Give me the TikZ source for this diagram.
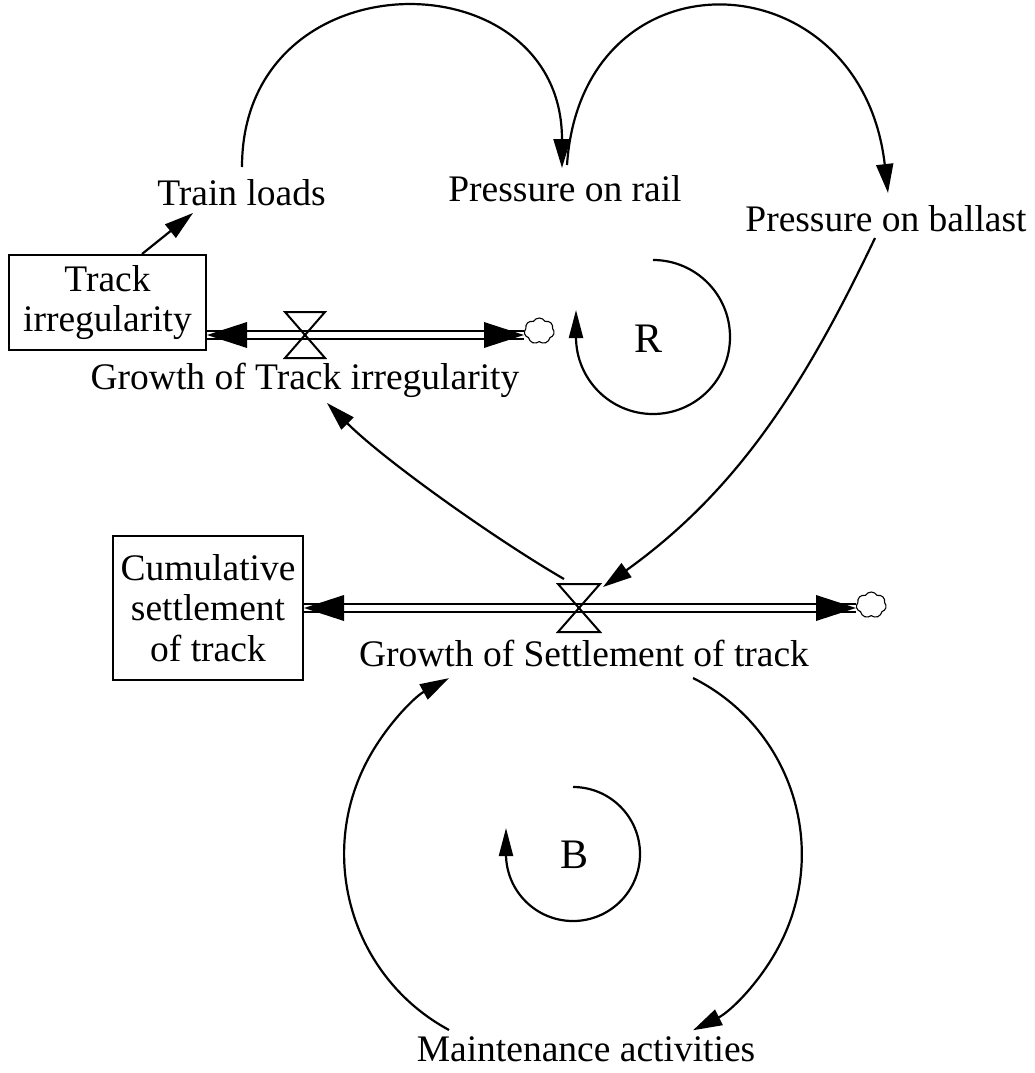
\documentclass[tikz,border=0pt]{standalone}
\usepackage{fontspec}
\setmainfont{Liberation Serif}
\usetikzlibrary{arrows.meta,calc,shapes.symbols}
\begin{document}
\begin{tikzpicture}[x=1pt,y=1pt,
  lbl/.style={inner sep=0pt, anchor=base, font=\fontsize{37.5}{40.5}\selectfont},
  looplbl/.style={inner sep=0pt, anchor=base, font=\fontsize{42}{44}\selectfont},
  stock/.style={draw, line width=2pt, align=center, inner sep=0pt, font=\fontsize{37.5}{40.5}\selectfont},
  conn/.style={line width=2.2pt, -{Triangle[length=29pt,width=17pt]}},
  loopline/.style={line width=2.2pt, -{Triangle[length=28pt,width=14pt]}},
  pipe/.style={line width=2.4pt, double, double distance=5.5pt},
  cloudy/.style={cloud, draw, line width=1.1pt, cloud puffs=7, cloud puff arc=120, minimum width=30pt, minimum height=26pt, inner sep=0pt, anchor=west},
  valveline/.style={line width=2pt, line join=miter}
]
\fill[white] (0,0) rectangle (1035,-1073);
\useasboundingbox (0,0) rectangle (1035,-1073);

% variables and stocks
\node[lbl] (tl) at (241.5,-205) {Train loads};
\node[lbl] (pr) at (565,-201) {Pressure on rail};
\node[lbl] (pb) at (886,-231) {Pressure on ballast};
\node[stock, minimum width=197pt, minimum height=95pt] (ti) at (107.5,-302.5) {Track\\irregularity};
\node[lbl] (gt) at (305,-389) {Growth of Track irregularity};
\node[stock, minimum width=190pt, minimum height=144pt] (cs) at (208,-608) {Cumulative\\settlement\\of track};
\node[lbl] (gs) at (584,-666) {Growth of Settlement of track};
\node[lbl] (ma) at (586,-1061) {Maintenance activities};
\node[looplbl] (Rlbl) at (648,-352) {R};
\node[looplbl] (Blbl) at (574,-868) {B};

% valves, clouds and loop centres
\coordinate (v1) at (305,-335);
\coordinate (v2) at (579,-608);
\coordinate (Rc) at (653,-337);
\coordinate (Bc) at (573,-854);
\node[cloudy] (c1) at (524,-331) {};
\node[cloudy] (c2) at (856,-605) {};

% flow pipes
\draw[pipe] (ti.east |- v1) -- (c1.west |- v1);
\fill (ti.east |- v1) -- ++(40,13) -- ++(0,-26) -- cycle;
\fill (c1.west |- v1) -- ++(-40,13) -- ++(0,-26) -- cycle;
\draw[valveline] (v1) -- ++(-20,23) -- ++(40,0) -- cycle
                 (v1) -- ++(-20,-23) -- ++(40,0) -- cycle;

\draw[pipe] (cs.east |- v2) -- (c2.west |- v2);
\fill (cs.east |- v2) -- ++(40,13) -- ++(0,-26) -- cycle;
\fill (c2.west |- v2) -- ++(-40,13) -- ++(0,-26) -- cycle;
\draw[valveline] (v2) -- ++(-21,24) -- ++(42,0) -- cycle
                 (v2) -- ++(-21,-24) -- ++(42,0) -- cycle;

% causal links
\draw[conn] ($(ti.north)+(34.5,0)$) -- ($(tl.base)+(-48.5,-8)$);
\draw[conn] ($(tl.base)+(0.5,38)$) .. controls +(0,213) and +(0,213) .. ($(pr.base)+(-3,33)$);
\draw[conn] ($(pr.base)+(2,36)$) .. controls +(15,220) and +(-27,236) .. ($(pb.base)+(2,38)$);
\draw[conn] ($(pb.base)+(-11,-7)$) .. controls +(-71,-149) and +(134,96) .. ($(v2)+(24,21)$);
\draw[conn] ($(v2)+(-15,29)$) .. controls +(-69,40) and +(57,-57) .. ($(gt.base)+(22,-14)$);
\draw[conn] ($(gs.base)+(109,-12)$) arc[start angle=63.4,end angle=-63.4,radius=197];
\draw[conn] ($(ma.base)+(-137,31)$) arc[start angle=241.6,end angle=118.4,radius=200];

% loop markers
\draw[loopline] ($(Rc)+(0,77)$) arc[start angle=90,end angle=-180,radius=77] -- ++(0,27);
\draw[loopline] ($(Bc)+(0,67)$) arc[start angle=90,end angle=-180,radius=67] -- ++(0,26);
\end{tikzpicture}
\end{document}
